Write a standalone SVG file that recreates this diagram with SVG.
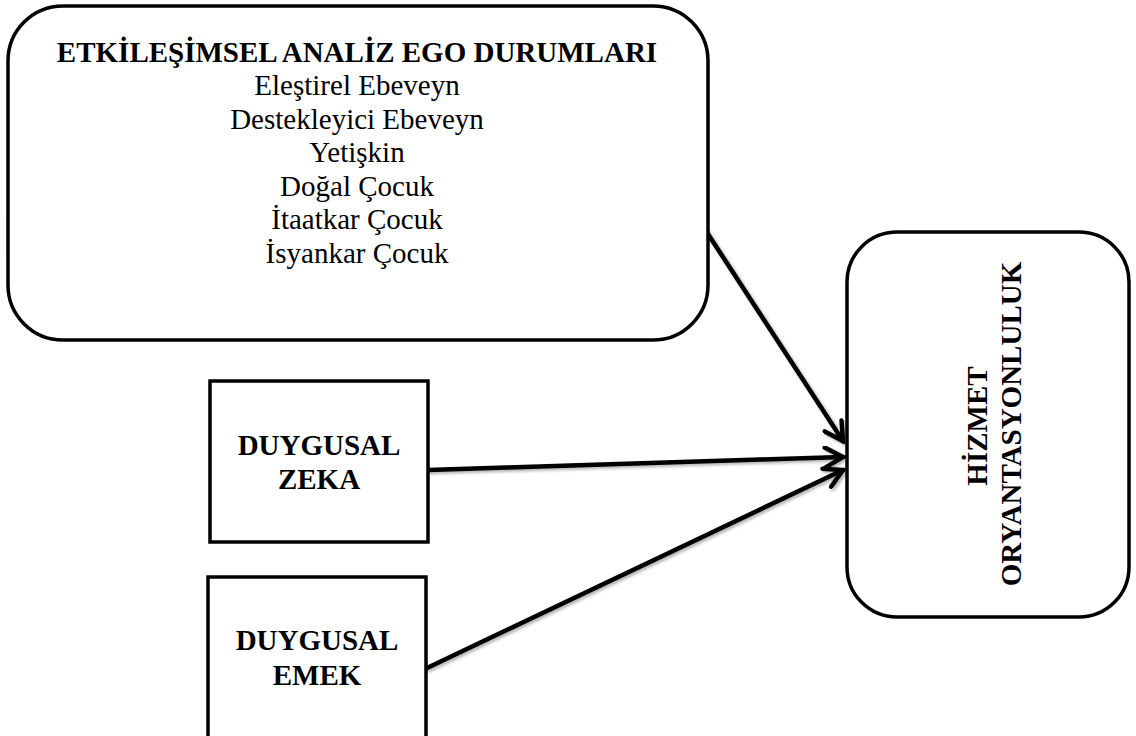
<svg xmlns="http://www.w3.org/2000/svg" width="1136" height="736" viewBox="0 0 1136 736">
  <style>
    .box { fill: #ffffff; stroke: #000000; stroke-width: 3.5; }
    .t { font-family: "Liberation Serif", "Times New Roman", serif; font-size: 29px; fill: #000000; text-anchor: middle; }
    .b { font-weight: bold; }
    .link { fill: none; stroke: #000000; stroke-width: 4.5; stroke-linecap: round; }
  </style>
  <defs>
    <filter id="soft" x="-10%" y="-10%" width="120%" height="120%">
      <feDropShadow dx="2" dy="2" stdDeviation="1.5" flood-color="#000000" flood-opacity="0.3"/>
    </filter>
    <marker id="vee" viewBox="0 0 24 24" refX="21" refY="12" markerWidth="24" markerHeight="24" markerUnits="userSpaceOnUse" orient="auto">
      <path d="M3,2 L21,12 L3,22" fill="none" stroke="#000000" stroke-width="4.5" stroke-linecap="round" stroke-linejoin="miter"/>
    </marker>
  </defs>

  <!-- connectors -->
  <g id="connectors" filter="url(#soft)">
    <line class="link" x1="706" y1="231" x2="843" y2="441" marker-end="url(#vee)"/>
    <line class="link" x1="428" y1="470" x2="843" y2="457" marker-end="url(#vee)"/>
    <line class="link" x1="427" y1="668" x2="843" y2="470" marker-end="url(#vee)"/>
  </g>

  <!-- ego states -->
  <g id="ego-durumlari">
    <rect class="box" x="8" y="6" width="700" height="334" rx="55" ry="55"/>
    <text class="t b" x="357" y="62" font-size="28.3">ETKİLEŞİMSEL ANALİZ EGO DURUMLARI</text>
    <text class="t" x="357" y="95">Eleştirel Ebeveyn</text>
    <text class="t" x="357" y="128.5">Destekleyici Ebeveyn</text>
    <text class="t" x="357" y="162">Yetişkin</text>
    <text class="t" x="357" y="195.5">Doğal Çocuk</text>
    <text class="t" x="357" y="229">İtaatkar Çocuk</text>
    <text class="t" x="357" y="262.5">İsyankar Çocuk</text>
  </g>

  <!-- emotional intelligence -->
  <g id="duygusal-zeka">
    <rect class="box" x="210" y="381" width="218" height="161"/>
    <text class="t b" x="319" y="455">DUYGUSAL</text>
    <text class="t b" x="319" y="489">ZEKA</text>
  </g>

  <!-- emotional labour -->
  <g id="duygusal-emek">
    <rect class="box" x="208" y="577" width="218" height="162"/>
    <text class="t b" x="317" y="650">DUYGUSAL</text>
    <text class="t b" x="317" y="685">EMEK</text>
  </g>

  <!-- service orientation -->
  <g id="hizmet-oryantasyonluluk">
    <rect class="box" x="847" y="232" width="282" height="385" rx="50" ry="50"/>
    <text class="t b" transform="translate(987,426) rotate(-90)">HİZMET</text>
    <text class="t b" transform="translate(1021,424) rotate(-90)">ORYANTASYONLULUK</text>
  </g>
</svg>
